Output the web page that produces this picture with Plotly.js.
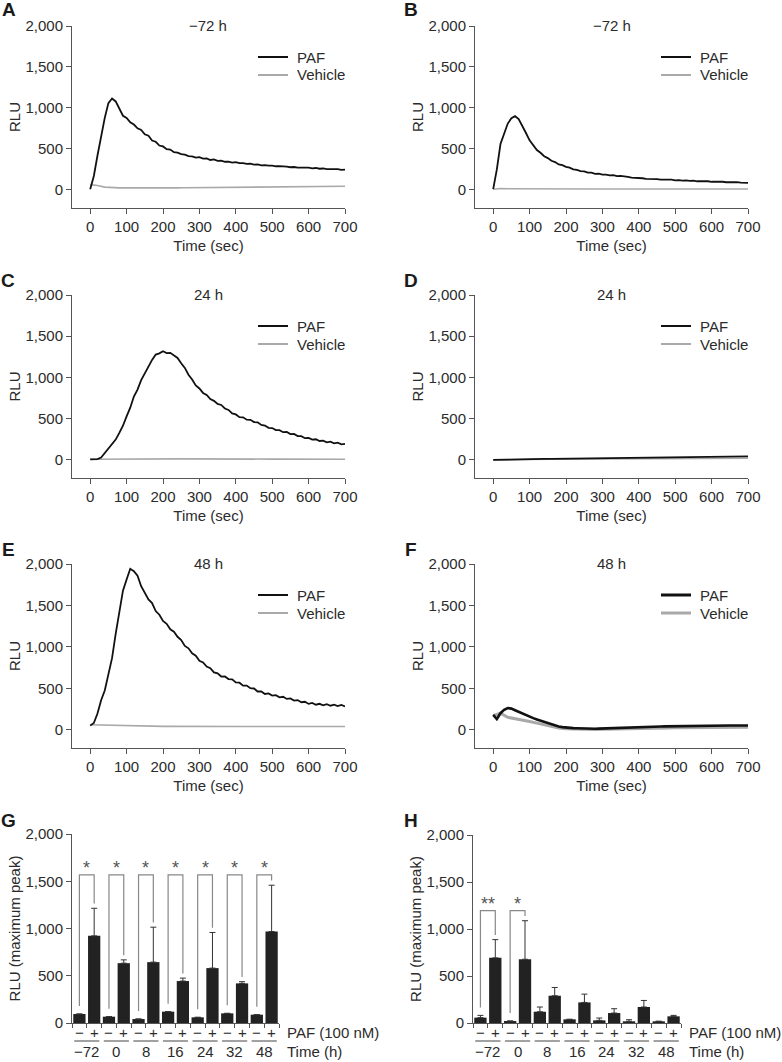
<!DOCTYPE html>
<html><head><meta charset="utf-8">
<script src="https://cdn.plot.ly/plotly-3.0.1.min.js"></script>
<style>html,body{margin:0;padding:0;background:#fff}#chart{width:782px;height:1062px}</style>
</head><body><div id="chart"></div>
<script>
// ---------------- DATA ----------------
const timeSec = [0,10,20,30,40,50,60,70,80,90,100,110,120,130,140,150,160,170,180,190,200,210,220,230,240,250,260,270,280,290,300,310,320,330,340,350,360,370,380,390,400,410,420,430,440,450,460,470,480,490,500,510,520,530,540,550,560,570,580,590,600,610,620,630,640,650,660,670,680,690,700];
const timeSecCoarse = [0,20,40,60,80,100,120,140,160,180,200,220,240,260,280,300,320,340,360,380,400,420,440,460,480,500,520,540,560,580,600,620,640,660,680,700];
const xTickVals = [0,100,200,300,400,500,600,700];
const yTickVals = [0,500,1000,1500,2000];

const panelTitles = ['\u221272 h','\u221272 h','24 h','24 h','48 h','48 h'];
const panelLetters = ['A','B','C','D','E','F','G','H'];
const seriesNames = ['PAF','Vehicle'];

// A  (-72 h)
const pafA = [10,170,420,650,880,1060,1115,1080,1000,905,878,826,798,752,733,679,661,603,588,542,531,497,493,461,456,437,431,412,409,394,401,383,384,366,372,355,357,344,345,333,340,328,327,318,321,309,311,301,304,296,298,289,291,283,284,277,280,272,275,269,272,263,268,259,262,255,257,250,253,244,247];
const vehA = [65,55,35,28,25,25,24,26,24,25,25,26,26,27,28,28,29,30,30,31,32,33,34,35,36,37,38,40,42,40,41,42,43,44,44,45];
// B  (-72 h)
const pafB = [10,250,560,690,810,875,900,865,770,695,605,549,487,454,411,389,356,340,311,302,282,273,252,244,229,227,212,212,197,199,187,188,178,181,170,171,161,160,151,151,142,143,136,137,130,133,126,128,122,125,118,121,114,117,110,113,106,109,103,106,100,103,97,100,94,97,92,95,89,92,86];
const vehB = [8,18,15,14,13,12,12,12,11,12,12,11,12,11,11,12,11,11,12,11,11,11,11,11,12,11,11,11,11,12,11,11,11,11,11,11];
// C  (24 h)
const pafC = [5,6,9,28,84,136,195,246,327,414,528,633,768,852,968,1052,1146,1213,1278,1292,1318,1296,1298,1262,1236,1172,1116,1032,976,903,866,812,787,738,716,678,666,623,606,563,551,518,516,488,486,458,456,423,416,388,386,361,361,336,338,313,314,288,288,263,266,245,250,229,234,213,220,201,208,189,194];
const vehC = [8,9,10,10,11,11,12,13,14,15,14,13,12,12,11,11,11,10,10,10,10,10,10,9,9,9,9,9,9,9,9,9,9,8,8,8];
// D  (24 h)
const pafD = [0,3,6,8,9,10,11,12,13,14,15,16,17,18,19,20,21,22,23,25,25,27,28,29,30,31,32,33,34,35,36,37,38,39,40,42];
const vehD = [0,2,4,5,5,6,6,7,8,8,9,10,10,10,11,11,12,12,12,13,13,14,14,14,15,15,15,16,16,16,17,17,17,18,18,19];
// E  (48 h)
const pafE = [50,82,196,356,474,656,864,1158,1412,1678,1812,1942,1914,1858,1732,1648,1572,1528,1432,1388,1312,1278,1212,1183,1122,1083,1012,983,922,893,832,813,762,743,692,680,642,643,612,608,572,568,532,533,502,498,462,463,432,438,412,418,392,398,372,378,352,358,332,338,312,323,302,313,294,308,290,303,285,299,282];
const vehE = [60,58,50,48,47,45,44,43,42,42,41,41,40,40,40,40,40,40,40,40,40,40,40,40,40,40,40,40,40,40,40,40,40,40,40,40];
// F  (48 h)
const pafF = [180,130,200,240,262,255,235,215,195,175,155,140,125,110,95,80,65,50,40,32,25,22,20,18,15,12,10,10,12,14,16,18,20,22,24,26,27,28,30,31,32,34,35,36,38,39,40,41,42,43,44,45,45,46,47,48,48,49,49,50,50,50,51,51,51,52,52,52,52,52,52];
const vehF = [170,200,150,135,120,100,80,60,40,22,12,8,5,4,4,5,6,8,10,12,14,16,18,20,22,24,25,26,27,28,28,29,29,30,30,30];

const pafSeries = [pafA,pafB,pafC,pafD,pafE,pafF];
const vehSeries = [vehA,vehB,vehC,vehD,vehE,vehF];
const pafTimes = [timeSec,timeSec,timeSec,timeSecCoarse,timeSec,timeSec];

// G / H bar charts (maximum peak)
const timeGroups = ['\u221272','0','8','16','24','32','48'];
const signLabels = ['\u2212','+'];
const G_negMean = [95,67,42,120,60,102,88];
const G_negErr  = [0,0,0,0,0,0,0];
const G_posMean = [922,633,644,444,581,419,968];
const G_posErr  = [292,35,370,31,377,18,490];
const G_sigGroups = [0,1,2,3,4,5,6];
const G_sigLabels = ['*','*','*','*','*','*','*'];
const G_bracketTop = 1567;

const H_negMean = [57,21,120,39,28,18,18];
const H_negErr  = [24,0,50,0,25,17,0];
const H_posMean = [693,678,290,219,106,170,71];
const H_posErr  = [194,410,88,88,46,70,10];
const H_sigGroups = [0,1];
const H_sigLabels = ['**','*'];
const H_bracketTop = 1195;

// ---------------- LAYOUT HELPERS ----------------
const W = 782, H = 1062;
const FONT = '"Liberation Sans", Arial, Helvetica, sans-serif';
const TXT = '#2b2b2b', AX = '#555';
const fx = p => p / W;
const fy = p => 1 - p / H;

const lineBoxes = [[72,345,26,208],[475,748,26,208],[72,345,295,478],[475,748,295,478],[72,345,564,748],[475,748,564,748]];
const barBoxes = [[72,279,834,1023],[473,681,835,1023]];

const traces = [], annotations = [], shapes = [];
const layout = {
  width: W, height: H, margin:{l:0,r:0,t:0,b:0},
  paper_bgcolor:'#fff', plot_bgcolor:'#fff',
  font:{family:FONT, size:15, color:TXT},
  bargap:0.17, showlegend:false
};

function axName(k){ return k===1 ? '' : String(k); }

// line panels
for (let p=0; p<6; p++) {
  const k = p+1, s = axName(k), b = lineBoxes[p];
  const xa = 'x'+s, ya = 'y'+s;
  layout['xaxis'+s] = {
    domain:[fx(b[0]),fx(b[1])], anchor:ya, range:[-50,700], tickvals:xTickVals,
    ticks:'outside', ticklen:5, tickwidth:1, tickcolor:AX, showline:true, linecolor:AX, linewidth:1,
    showgrid:false, zeroline:false, tickfont:{size:15,color:TXT},
    title:{text:'Time (sec)', font:{size:15,color:TXT}, standoff:6}
  };
  layout['yaxis'+s] = {
    domain:[fy(b[3]),fy(b[2])], anchor:xa, range:[-220,2000], tickvals:yTickVals, tickformat:',d',
    ticks:'outside', ticklen:5, tickwidth:1, tickcolor:AX, showline:true, linecolor:AX, linewidth:1,
    showgrid:false, zeroline:false, tickfont:{size:15,color:TXT},
    title:{text:'RLU', font:{size:15,color:TXT}, standoff:1}
  };
  const pafW = (p===5) ? 2.6 : 1.8, vehW = (p===5) ? 3 : 1.6;
  const pafC_ = '#111', vehC_ = '#a9a9a9';
  traces.push({type:'scatter', mode:'lines', x:timeSecCoarse, y:vehSeries[p], xaxis:xa, yaxis:ya,
    name:seriesNames[1], line:{color:vehC_, width:vehW}, hoverinfo:'skip'});
  traces.push({type:'scatter', mode:'lines', x:pafTimes[p], y:pafSeries[p], xaxis:xa, yaxis:ya,
    name:seriesNames[0], line:{color:pafC_, width:pafW}, hoverinfo:'skip'});
  // legend (drawn manually for exact spacing)
  [[seriesNames[0], pafC_, (p===5?3:2), 31],[seriesNames[1], vehC_, (p===5?3:2), 49]].forEach(([nm,c,w,dy])=>{
    shapes.push({type:'line', xref:'paper', yref:'paper', x0:fx(b[0]+186), x1:fx(b[0]+216),
      y0:fy(b[2]+dy), y1:fy(b[2]+dy), line:{color:c, width:w}});
    annotations.push({text:nm, xref:'paper', yref:'paper', x:fx(b[0]+223), y:fy(b[2]+dy),
      xanchor:'left', yanchor:'middle', showarrow:false, font:{size:15,color:TXT}});
  });
  annotations.push({text:panelTitles[p], xref:xa+' domain', x:0.5, yref:'paper', y:fy(b[2]-1),
    xanchor:'center', yanchor:'middle', showarrow:false, font:{size:15,color:TXT}});
}

// bar panels
const barData = [
  {neg:G_negMean, negE:G_negErr, pos:G_posMean, posE:G_posErr, sig:G_sigGroups, sigL:G_sigLabels, top:G_bracketTop},
  {neg:H_negMean, negE:H_negErr, pos:H_posMean, posE:H_posErr, sig:H_sigGroups, sigL:H_sigLabels, top:H_bracketTop}
];
for (let q=0; q<2; q++) {
  const k = 7+q, s = axName(k), b = barBoxes[q], d = barData[q];
  const xa = 'x'+s, ya = 'y'+s;
  const xs = [], ys = [], es = [], zs = [];
  const boundaries = [];
  for (let g=0; g<timeGroups.length; g++) {
    xs.push(2*g, 2*g+1);
    ys.push(d.neg[g], d.pos[g]);
    es.push(d.negE[g], d.posE[g]);
    zs.push(0,0);
  }
  for (let i=0; i<=xs.length; i++) boundaries.push(i-0.5);
  layout['xaxis'+s] = {
    domain:[fx(b[0]),fx(b[1])], anchor:ya, range:[-0.5, xs.length-0.5], tickvals:boundaries,
    showticklabels:false, ticks:'outside', ticklen:4, tickwidth:1, tickcolor:AX,
    showline:true, linecolor:AX, linewidth:1, showgrid:false, zeroline:false
  };
  layout['yaxis'+s] = {
    domain:[fy(b[3]),fy(b[2])], anchor:xa, range:[0,2000], tickvals:yTickVals, tickformat:',d',
    ticks:'outside', ticklen:5, tickwidth:1, tickcolor:AX, showline:true, linecolor:AX, linewidth:1,
    showgrid:false, zeroline:false, tickfont:{size:15,color:TXT},
    title:{text:'RLU (maximum peak)', font:{size:15,color:TXT}, standoff:1}
  };
  traces.push({type:'bar', x:xs, y:ys, xaxis:xa, yaxis:ya, showlegend:false, hoverinfo:'skip',
    marker:{color:'#222', line:{width:0}},
    error_y:{type:'data', symmetric:false, array:es, arrayminus:zs, color:'#333', thickness:1, width:3}});
  xs.forEach((xv,i)=>annotations.push({text:signLabels[i%2], xref:xa, x:xv, yref:'paper', y:fy(1032),
    xanchor:'center', yanchor:'middle', showarrow:false, font:{size:15,color:TXT}}));
  timeGroups.forEach((t,g)=>{
    annotations.push({text:t, xref:xa, x:2*g+0.5, yref:'paper', y:fy(1051),
      xanchor:'center', yanchor:'middle', showarrow:false, font:{size:15,color:TXT}});
    shapes.push({type:'line', xref:xa, yref:'paper', x0:2*g-0.35, x1:2*g+1.35, y0:fy(1041), y1:fy(1041),
      line:{color:'#444', width:1}});
  });
  annotations.push({text:'PAF (100 nM)', xref:'paper', x:fx(b[1]+6), yref:'paper', y:fy(1032),
    xanchor:'left', yanchor:'middle', showarrow:false, font:{size:15,color:TXT}});
  annotations.push({text:'Time (h)', xref:'paper', x:fx(b[1]+6), yref:'paper', y:fy(1051),
    xanchor:'left', yanchor:'middle', showarrow:false, font:{size:15,color:TXT}});
  d.sig.forEach((g,j)=>{
    const yl = d.neg[g]+d.negE[g]+85, yr = d.pos[g]+d.posE[g]+50;
    shapes.push({type:'path', xref:xa, yref:ya,
      path:`M${2*g},${yl} L${2*g},${d.top} L${2*g+1},${d.top} L${2*g+1},${yr}`,
      line:{color:'#888', width:1.2}});
    annotations.push({text:d.sigL[j], xref:xa, x:2*g+0.5, yref:ya, y:d.top, xanchor:'center', yanchor:'bottom',
      yshift:-5, showarrow:false, font:{size:18,color:'#555'}});
  });
}

// panel letters
const letterPos = [[9,10],[411,10],[8,280],[411,280],[8,549],[411,549],[8,820],[411,820]];
panelLetters.forEach((L,i)=>annotations.push({text:'<b>'+L+'</b>', xref:'paper', yref:'paper',
  x:fx(letterPos[i][0]), y:fy(letterPos[i][1]), xanchor:'center', yanchor:'middle', showarrow:false,
  font:{size:19,color:'#1a1a1a'}}));

layout.annotations = annotations;
layout.shapes = shapes;

Plotly.newPlot('chart', traces, layout, {staticPlot:true, displayModeBar:false});
</script>
</body></html>
